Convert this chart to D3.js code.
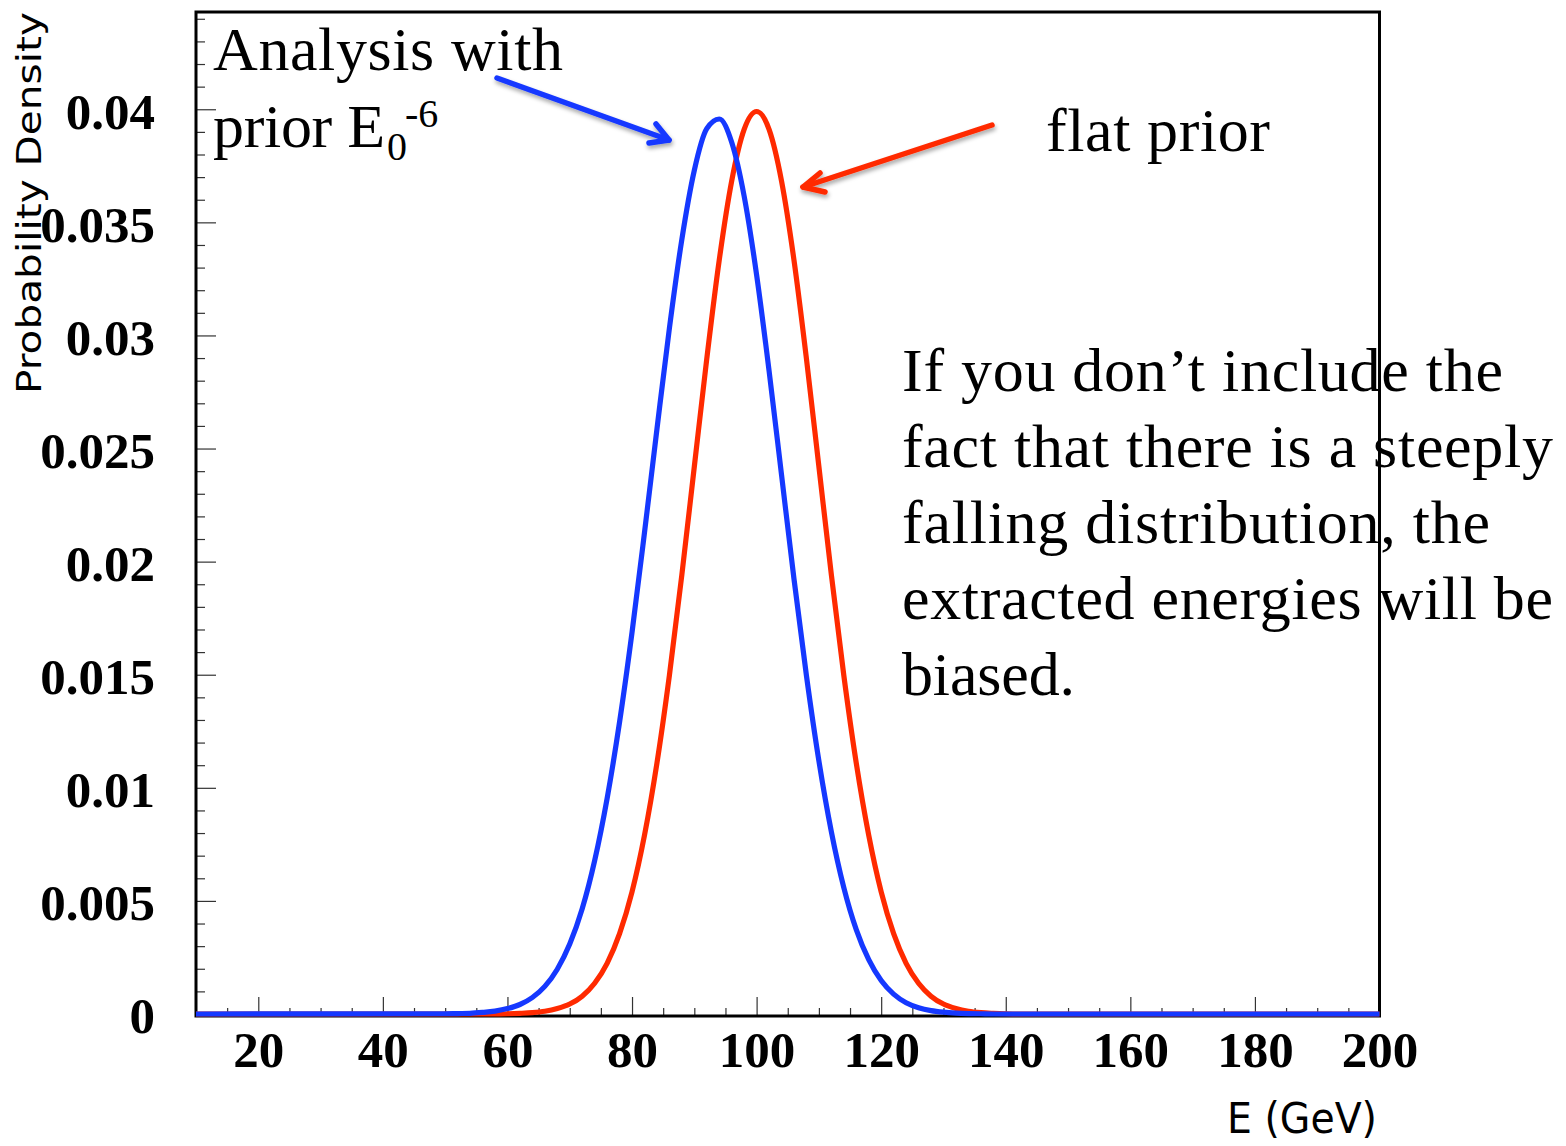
<!DOCTYPE html>
<html>
<head>
<meta charset="utf-8">
<script src="https://cdn.jsdelivr.net/npm/d3@7"></script>
<style>
  html, body { margin: 0; padding: 0; background: #fff; }
  svg { display: block; }
</style>
</head>
<body>
<svg id="chart" width="1566" height="1146"></svg>
<script>
// Energy grid (GeV) shared by both posterior curves
const energies = [10, 50, 52, 54, 56, 58, 60, 62, 64, 66, 68, 70, 72, 74, 76, 78, 80,
  82, 84, 86, 88, 90, 92, 94, 96, 98, 100, 102, 104, 106, 108, 110, 112, 114, 116,
  118, 120, 122, 124, 126, 128, 130, 132, 134, 136, 138, 140, 142, 144, 146, 148, 150, 200];

// Posterior density with a flat prior (red)
const flatPrior = [0, 0, 0, 0, 0, 0, 0.00001, 0.00003, 0.00006, 0.00012, 0.00024,
  0.00044, 0.00079, 0.00136, 0.00224, 0.00355, 0.00540, 0.00790, 0.01109, 0.01497,
  0.01942, 0.02420, 0.02897, 0.03333, 0.03683, 0.03911, 0.03990, 0.03911, 0.03683,
  0.03333, 0.02897, 0.02420, 0.01942, 0.01497, 0.01109, 0.00790, 0.00540, 0.00355,
  0.00224, 0.00136, 0.00079, 0.00044, 0.00024, 0.00012, 0.00006, 0.00003, 0.00001,
  0, 0, 0, 0, 0, 0];

// Posterior density with the steeply falling E0^-6 prior (blue)
const steepPrior = [0, 0.00001, 0.00002, 0.00003, 0.00007, 0.00013, 0.00024, 0.00042,
  0.00073, 0.00122, 0.00198, 0.00309, 0.00465, 0.00678, 0.00953, 0.01291, 0.01687,
  0.02128, 0.02586, 0.03032, 0.03425, 0.03730, 0.03914, 0.03957, 0.03854, 0.03616,
  0.03268, 0.02844, 0.02384, 0.01924, 0.01496, 0.01119, 0.00806, 0.00559, 0.00373,
  0.00240, 0.00148, 0.00088, 0.00050, 0.00028, 0.00015, 0.00008, 0.00004, 0.00002,
  0.00001, 0, 0, 0, 0, 0, 0, 0, 0];

// Axis ticks and their labels
const xTicks = [20, 40, 60, 80, 100, 120, 140, 160, 180, 200];
const xMinorTicks = d3.range(15, 200, 5).filter(v => v % 20 !== 0);
const yTicks = [0, 0.005, 0.01, 0.015, 0.02, 0.025, 0.03, 0.035, 0.04];
const yTickLabels = ["0", "0.005", "0.01", "0.015", "0.02", "0.025", "0.03", "0.035", "0.04"];
const yMinorTicks = d3.range(1, 45).map(i => i / 1000).filter(v => Math.round(v * 1000) % 5 !== 0);

// Annotation text
const paragraph = [
  "If you don\u2019t include the",
  "fact that there is a steeply",
  "falling distribution, the",
  "extracted energies will be",
  "biased."
];

const BLUE = "#1538ff";
const RED = "#ff2a00";

const svg = d3.select("#chart");
const frameL = 196, frameR = 1379.5, frameT = 12, frameB = 1016;

const x = d3.scaleLinear().domain([10, 200]).range([frameL, frameR]);
const y = d3.scaleLinear().domain([0, 0.0443]).range([1014, frameT]);

// soft shadow used under the annotation arrows
const defs = svg.append("defs");
const shadow = defs.append("filter").attr("id", "arrowShadow")
  .attr("x", "-20%").attr("y", "-50%").attr("width", "140%").attr("height", "200%");
shadow.append("feDropShadow").attr("dx", 1).attr("dy", 3)
  .attr("stdDeviation", 2).attr("flood-color", "#000").attr("flood-opacity", 0.35);

// ---- axes ----
const yAxisMajor = d3.axisLeft(y).tickValues(yTicks).tickSize(-20).tickPadding(41)
  .tickFormat((d, i) => yTickLabels[i]);
const yAxisMinor = d3.axisLeft(y).tickValues(yMinorTicks).tickSize(-9).tickFormat("");
const xAxisMajor = d3.axisBottom(x).tickValues(xTicks).tickSize(-19).tickPadding(15)
  .tickFormat(d3.format("d"));
const xAxisMinor = d3.axisBottom(x).tickValues(xMinorTicks).tickSize(-8).tickFormat("");

function styleAxis(g) {
  g.select(".domain").remove();
  g.selectAll(".tick line").attr("stroke", "#333").attr("stroke-width", 1.2);
  g.selectAll("text")
    .attr("fill", "#000")
    .style("font-family", "'Liberation Serif', 'Times New Roman', serif")
    .style("font-weight", "bold")
    .style("font-size", "51px");
}

svg.append("g").attr("transform", `translate(${frameL},0)`).call(yAxisMinor).call(styleAxis);
svg.append("g").attr("transform", `translate(${frameL},0)`).call(yAxisMajor).call(styleAxis)
  .selectAll("text").attr("dy", "0.37em");
svg.append("g").attr("transform", `translate(0,${frameB})`).call(xAxisMinor).call(styleAxis);
svg.append("g").attr("transform", `translate(0,${frameB})`).call(xAxisMajor).call(styleAxis);

// ---- curves ----
const line = d3.line()
  .x((d, i) => x(energies[i]))
  .y(d => y(d))
  .curve(d3.curveMonotoneX);

// frame
svg.append("rect")
  .attr("x", frameL).attr("y", frameT)
  .attr("width", frameR - frameL).attr("height", frameB - frameT)
  .attr("fill", "none").attr("stroke", "#000").attr("stroke-width", 3);

svg.append("path").datum(flatPrior)
  .attr("d", line).attr("fill", "none")
  .attr("stroke", RED).attr("stroke-width", 5.2).attr("stroke-linejoin", "round");
svg.append("path").datum(steepPrior)
  .attr("d", line).attr("fill", "none")
  .attr("stroke", BLUE).attr("stroke-width", 5.2).attr("stroke-linejoin", "round");

// ---- axis titles ----
svg.append("text")
  .attr("transform", "translate(41,394) rotate(-90)")
  .attr("x", 0).attr("y", 0)
  .attr("textLength", 382).attr("lengthAdjust", "spacingAndGlyphs")
  .style("font-family", "'DejaVu Sans', sans-serif")
  .style("font-size", "34px")
  .attr("fill", "#000")
  .text("Probability Density");

svg.append("text")
  .attr("x", 1227).attr("y", 1133)
  .attr("textLength", 150).attr("lengthAdjust", "spacingAndGlyphs")
  .style("font-family", "'DejaVu Sans', sans-serif")
  .style("font-size", "43px")
  .attr("fill", "#000")
  .text("E (GeV)");

// ---- annotations ----
const serif = "'Liberation Serif', 'Times New Roman', serif";
function note(txt, xx, yy, len, size) {
  const t = svg.append("text")
    .attr("x", xx).attr("y", yy)
    .style("font-family", serif)
    .style("font-size", (size || 62) + "px")
    .attr("fill", "#000")
    .text(txt);
  if (len) t.attr("textLength", len).attr("lengthAdjust", "spacing");
  return t;
}

note("Analysis with", 213, 70, 350);
note("prior E", 213, 147, 172);
note("0", 387, 160, null, 40);
note("-6", 405, 127, null, 40);

note("flat prior", 1046, 151, 224);

const paraWidths = [601, 651, 588, 651, 173];
paragraph.forEach((s, i) => note(s, 902, 391 + i * 76, paraWidths[i]));

// arrows
function arrow(pts, head, color) {
  const g = svg.append("g").attr("filter", "url(#arrowShadow)")
    .attr("stroke", color).attr("stroke-width", 5.5)
    .attr("stroke-linecap", "round").attr("stroke-linejoin", "round").attr("fill", "none");
  g.append("path").attr("d", d3.line()(pts));
  g.append("path").attr("d", d3.line()(head));
}
arrow([[497, 78], [669, 140]], [[656, 124], [669, 140], [649, 143]], BLUE);
arrow([[992, 125], [803, 187]], [[820, 173], [803, 187], [825, 192]], RED);
</script>
</body>
</html>
